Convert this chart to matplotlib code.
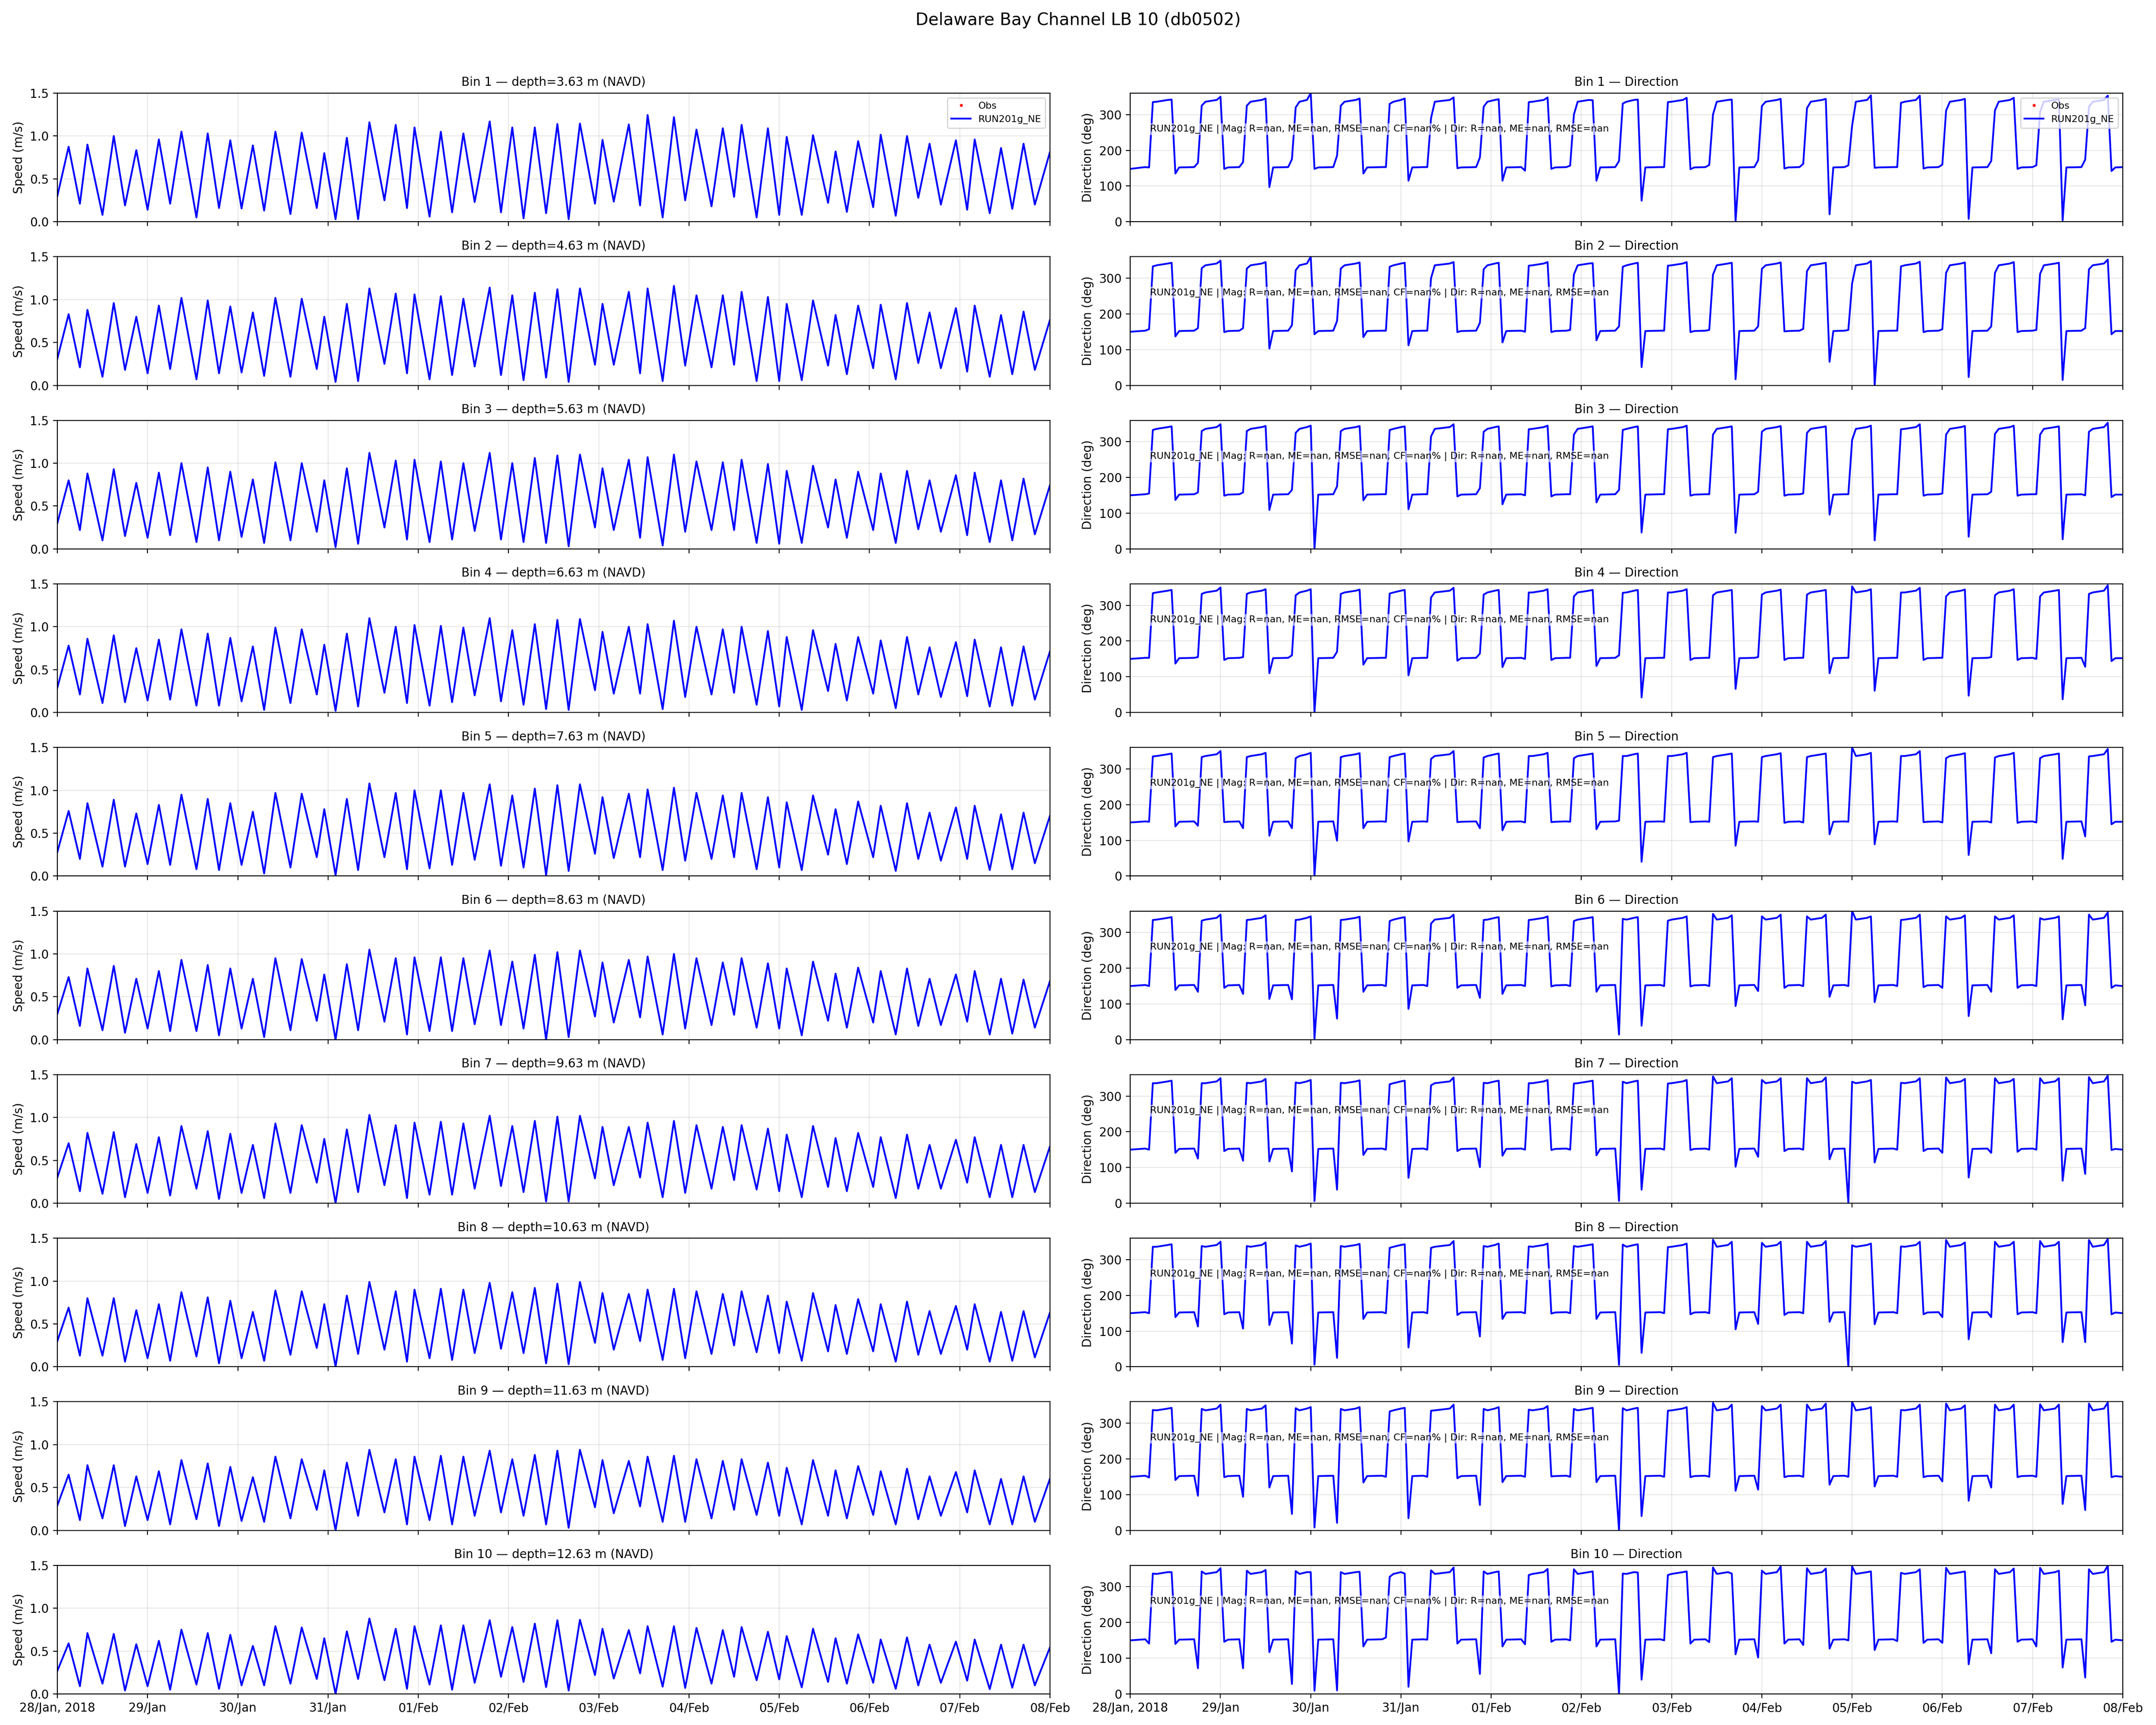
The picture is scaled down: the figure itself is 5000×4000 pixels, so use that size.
import numpy as np
import matplotlib
matplotlib.use("Agg")
import matplotlib.pyplot as plt
import matplotlib.dates as mdates
from matplotlib.ticker import FuncFormatter
from datetime import datetime, timedelta

station = "Delaware Bay Channel LB 10 (db0502)"
model_name = "RUN201g_NE"
t0 = datetime(2018, 1, 28)
t1 = datetime(2018, 2, 8)
depths = [3.63, 4.63, 5.63, 6.63, 7.63, 8.63, 9.63, 10.63, 11.63, 12.63]

# hours after 28 Jan 00:00 of the speed maxima / slack minima (same for every bin)
peak_hr = [3, 8, 15, 21, 27, 33, 40, 46, 52, 58, 65, 71, 77, 83, 90, 95, 102, 108, 115, 121,
           127, 133, 139, 145, 152, 157, 164, 170, 177, 182, 189, 194, 201, 207, 213, 219, 226, 232, 239, 244,
           251, 257]
trough_hr = [6, 12, 18, 24, 30, 37, 43, 49, 55, 62, 69, 74, 80, 87, 93, 99, 105, 111, 118, 124,
             130, 136, 143, 148, 155, 161, 167, 174, 180, 186, 192, 198, 205, 210, 217, 223, 229, 235, 242, 248,
             254, 260]

speed_start = [0.30, 0.31, 0.30, 0.29, 0.28, 0.30, 0.30, 0.30, 0.29, 0.27]
speed_end = [0.81, 0.76, 0.74, 0.71, 0.70, 0.68, 0.66, 0.63, 0.60, 0.54]

speed_peaks = [
    [0.875, 0.90, 1.00, 0.835, 0.96, 1.05, 1.03, 0.95, 0.89, 1.05, 1.04, 0.80, 0.98, 1.16, 1.13, 1.10, 1.05, 1.03, 1.17, 1.10,
     1.10, 1.14, 1.145, 0.955, 1.135, 1.245, 1.22, 1.075, 1.09, 1.13, 1.09, 0.99, 1.01, 0.82, 0.94, 1.015, 1.00, 0.91, 0.95, 0.96,
     0.86, 0.91],
    [0.83, 0.88, 0.96, 0.80, 0.93, 1.02, 0.99, 0.92, 0.85, 1.02, 1.01, 0.80, 0.95, 1.13, 1.07, 1.06, 1.04, 1.01, 1.14, 1.05,
     1.08, 1.12, 1.13, 0.95, 1.09, 1.13, 1.16, 1.05, 1.05, 1.09, 1.03, 0.95, 0.99, 0.82, 0.93, 0.94, 0.96, 0.85, 0.90, 0.93,
     0.82, 0.86],
    [0.80, 0.88, 0.93, 0.77, 0.89, 1.00, 0.95, 0.90, 0.81, 1.01, 1.00, 0.80, 0.94, 1.12, 1.03, 1.04, 1.02, 1.00, 1.12, 1.00,
     1.06, 1.09, 1.10, 0.94, 1.04, 1.07, 1.10, 1.02, 1.01, 1.04, 0.99, 0.91, 0.97, 0.81, 0.90, 0.88, 0.91, 0.80, 0.86, 0.89,
     0.80, 0.82],
    [0.78, 0.86, 0.90, 0.75, 0.85, 0.97, 0.92, 0.87, 0.77, 0.99, 0.97, 0.79, 0.92, 1.10, 1.00, 1.02, 1.01, 0.99, 1.10, 0.96,
     1.03, 1.08, 1.09, 0.94, 1.00, 1.03, 1.07, 1.00, 0.97, 1.00, 0.95, 0.88, 0.96, 0.80, 0.88, 0.84, 0.88, 0.76, 0.82, 0.85,
     0.76, 0.77],
    [0.76, 0.85, 0.89, 0.73, 0.83, 0.95, 0.90, 0.85, 0.75, 0.97, 0.96, 0.78, 0.90, 1.08, 0.97, 1.00, 1.00, 0.97, 1.07, 0.94,
     1.02, 1.06, 1.07, 0.92, 0.96, 1.01, 1.03, 0.97, 0.94, 0.97, 0.92, 0.86, 0.94, 0.78, 0.87, 0.82, 0.85, 0.74, 0.80, 0.82,
     0.72, 0.74],
    [0.73, 0.83, 0.86, 0.71, 0.80, 0.93, 0.87, 0.83, 0.71, 0.95, 0.94, 0.76, 0.88, 1.05, 0.95, 0.96, 0.96, 0.95, 1.04, 0.91,
     0.99, 1.02, 1.04, 0.90, 0.93, 0.97, 1.00, 0.95, 0.90, 0.95, 0.89, 0.83, 0.91, 0.77, 0.84, 0.80, 0.83, 0.71, 0.76, 0.80,
     0.71, 0.70],
    [0.70, 0.82, 0.83, 0.69, 0.77, 0.90, 0.84, 0.81, 0.68, 0.93, 0.91, 0.75, 0.86, 1.03, 0.91, 0.94, 0.95, 0.93, 1.02, 0.90,
     0.96, 1.01, 1.02, 0.89, 0.89, 0.94, 0.96, 0.91, 0.89, 0.91, 0.87, 0.80, 0.90, 0.76, 0.82, 0.77, 0.80, 0.68, 0.74, 0.77,
     0.68, 0.68],
    [0.69, 0.80, 0.80, 0.66, 0.73, 0.87, 0.81, 0.77, 0.64, 0.89, 0.88, 0.73, 0.83, 0.99, 0.88, 0.90, 0.91, 0.90, 0.98, 0.87,
     0.92, 0.97, 0.99, 0.86, 0.85, 0.90, 0.91, 0.88, 0.85, 0.88, 0.83, 0.76, 0.86, 0.72, 0.79, 0.73, 0.76, 0.65, 0.71, 0.73,
     0.64, 0.65],
    [0.65, 0.76, 0.76, 0.63, 0.69, 0.82, 0.78, 0.74, 0.62, 0.86, 0.83, 0.70, 0.79, 0.94, 0.83, 0.86, 0.87, 0.86, 0.93, 0.83,
     0.88, 0.93, 0.94, 0.82, 0.81, 0.86, 0.87, 0.83, 0.81, 0.83, 0.79, 0.73, 0.82, 0.70, 0.75, 0.69, 0.72, 0.63, 0.68, 0.70,
     0.60, 0.63],
    [0.59, 0.71, 0.70, 0.58, 0.62, 0.75, 0.71, 0.69, 0.56, 0.79, 0.775, 0.65, 0.73, 0.88, 0.76, 0.79, 0.80, 0.80, 0.86, 0.78,
     0.82, 0.86, 0.865, 0.76, 0.745, 0.79, 0.79, 0.77, 0.745, 0.78, 0.725, 0.675, 0.76, 0.65, 0.695, 0.635, 0.66, 0.575, 0.61, 0.635,
     0.575, 0.575],
]

speed_troughs = [
    [0.21, 0.08, 0.19, 0.14, 0.21, 0.05, 0.16, 0.155, 0.13, 0.09, 0.16, 0.03, 0.03, 0.25, 0.16, 0.06, 0.11, 0.23, 0.11, 0.04,
     0.10, 0.03, 0.21, 0.235, 0.19, 0.05, 0.25, 0.18, 0.29, 0.05, 0.08, 0.08, 0.22, 0.115, 0.17, 0.07, 0.28, 0.20, 0.14, 0.10,
     0.15, 0.20],
    [0.21, 0.10, 0.18, 0.14, 0.19, 0.07, 0.14, 0.15, 0.11, 0.10, 0.19, 0.04, 0.05, 0.25, 0.14, 0.07, 0.12, 0.22, 0.12, 0.06,
     0.09, 0.04, 0.24, 0.24, 0.14, 0.05, 0.23, 0.21, 0.24, 0.05, 0.05, 0.06, 0.23, 0.13, 0.20, 0.07, 0.26, 0.20, 0.16, 0.10,
     0.13, 0.18],
    [0.22, 0.10, 0.15, 0.13, 0.16, 0.08, 0.10, 0.14, 0.07, 0.10, 0.20, 0.02, 0.06, 0.25, 0.11, 0.08, 0.11, 0.21, 0.11, 0.08,
     0.07, 0.03, 0.25, 0.22, 0.13, 0.04, 0.20, 0.22, 0.22, 0.07, 0.06, 0.07, 0.25, 0.13, 0.22, 0.07, 0.23, 0.20, 0.16, 0.08,
     0.10, 0.17],
    [0.21, 0.11, 0.12, 0.14, 0.15, 0.08, 0.08, 0.13, 0.03, 0.11, 0.21, 0.02, 0.07, 0.23, 0.11, 0.08, 0.12, 0.20, 0.13, 0.09,
     0.04, 0.03, 0.26, 0.22, 0.22, 0.04, 0.18, 0.21, 0.23, 0.09, 0.07, 0.03, 0.25, 0.14, 0.22, 0.05, 0.21, 0.18, 0.19, 0.07,
     0.08, 0.15],
    [0.20, 0.11, 0.11, 0.14, 0.13, 0.08, 0.07, 0.13, 0.03, 0.10, 0.22, 0.01, 0.07, 0.22, 0.08, 0.09, 0.13, 0.19, 0.12, 0.10,
     0.01, 0.06, 0.26, 0.21, 0.22, 0.07, 0.18, 0.20, 0.22, 0.08, 0.10, 0.07, 0.25, 0.14, 0.22, 0.06, 0.20, 0.18, 0.20, 0.07,
     0.08, 0.15],
    [0.16, 0.11, 0.08, 0.13, 0.10, 0.10, 0.05, 0.13, 0.03, 0.11, 0.22, 0.00, 0.11, 0.21, 0.06, 0.10, 0.10, 0.18, 0.17, 0.13,
     0.00, 0.03, 0.27, 0.20, 0.26, 0.06, 0.13, 0.17, 0.29, 0.14, 0.13, 0.05, 0.22, 0.14, 0.20, 0.06, 0.16, 0.17, 0.21, 0.06,
     0.07, 0.14],
    [0.14, 0.11, 0.07, 0.12, 0.09, 0.17, 0.05, 0.12, 0.06, 0.12, 0.24, 0.00, 0.13, 0.21, 0.06, 0.10, 0.10, 0.17, 0.20, 0.13,
     0.02, 0.02, 0.29, 0.21, 0.30, 0.07, 0.12, 0.17, 0.27, 0.16, 0.14, 0.07, 0.19, 0.14, 0.19, 0.06, 0.17, 0.17, 0.24, 0.07,
     0.07, 0.13],
    [0.13, 0.13, 0.06, 0.10, 0.07, 0.12, 0.04, 0.10, 0.07, 0.14, 0.22, 0.00, 0.15, 0.20, 0.06, 0.10, 0.08, 0.16, 0.21, 0.16,
     0.04, 0.03, 0.28, 0.20, 0.30, 0.08, 0.10, 0.15, 0.25, 0.17, 0.16, 0.07, 0.18, 0.15, 0.18, 0.06, 0.14, 0.15, 0.20, 0.06,
     0.07, 0.11],
    [0.12, 0.14, 0.05, 0.12, 0.07, 0.13, 0.05, 0.11, 0.10, 0.14, 0.24, 0.00, 0.17, 0.21, 0.07, 0.12, 0.07, 0.17, 0.21, 0.17,
     0.07, 0.03, 0.27, 0.20, 0.28, 0.10, 0.10, 0.14, 0.24, 0.18, 0.17, 0.07, 0.17, 0.14, 0.18, 0.07, 0.13, 0.17, 0.21, 0.07,
     0.07, 0.10],
    [0.09, 0.12, 0.04, 0.09, 0.05, 0.11, 0.06, 0.10, 0.10, 0.12, 0.175, 0.00, 0.175, 0.16, 0.06, 0.11, 0.05, 0.13, 0.20, 0.14,
     0.08, 0.04, 0.22, 0.18, 0.24, 0.085, 0.07, 0.12, 0.20, 0.16, 0.17, 0.077, 0.14, 0.12, 0.13, 0.06, 0.10, 0.13, 0.155, 0.056,
     0.073, 0.10],
]

# direction: hour the current turns to flood (rise) and back to ebb (drop)
rise_hr = [6, 19, 31, 44, 56, 69, 80, 94, 106, 118, 131, 143, 155, 168, 180, 192, 205, 217, 230, 242, 255]
drop_hr = [12, 25, 37, 49, 62, 74, 87, 99, 112, 124, 136, 149, 161, 174, 186, 198, 211, 223, 236, 248, 261]
ebb_level = 152
flood_mid = [336, 341]

dir_start = [148, 150, 150, 150, 150, 150, 150, 150, 150, 150]
dir_end = [153, 152, 152, 152, 152, 150, 150, 150, 150, 150]

# first ebb value after each flood (spike at the turn)
dir_drop = [
    [135, 148, 97, 148, 135, 115, 150, 115, 148, 115, 59, 147, 1, 149, 21, 151, 149, 8, 148, 4, 142],
    [137, 149, 103, 143, 135, 112, 149, 120, 149, 126, 51, 149, 17, 151, 66, 0, 149, 23, 149, 15, 143],
    [137, 149, 109, 0, 136, 111, 147, 125, 147, 130, 46, 149, 45, 149, 96, 24, 149, 34, 149, 27, 145],
    [137, 147, 110, 0, 134, 104, 145, 127, 147, 130, 42, 147, 66, 147, 110, 61, 147, 47, 147, 37, 144],
    [139, 151, 113, 2, 134, 97, 151, 128, 151, 131, 40, 151, 85, 149, 117, 89, 151, 59, 149, 48, 145],
    [139, 145, 114, 2, 134, 86, 145, 128, 149, 134, 39, 149, 94, 145, 120, 105, 147, 66, 145, 57, 145],
    [141, 146, 117, 6, 135, 71, 146, 133, 149, 134, 38, 149, 102, 146, 123, 114, 146, 72, 144, 63, 149],
    [139, 147, 117, 6, 134, 54, 145, 134, 149, 134, 39, 147, 105, 145, 126, 119, 147, 77, 147, 69, 147],
    [141, 149, 120, 8, 134, 34, 146, 135, 151, 135, 40, 149, 111, 149, 128, 123, 149, 83, 149, 74, 149],
    [140, 146, 117, 9, 133, 20, 141, 133, 146, 133, 40, 141, 111, 141, 127, 123, 143, 83, 146, 74, 146],
]

# last ebb value before each flood
dir_dip = [
    [152, 165, 167, 175, 185, 153, 153, 180, 143, 157, 170, 153, 159, 172, 162, 158, 153, 160, 170, 158, 174],
    [157, 160, 160, 168, 180, 153, 153, 175, 150, 155, 165, 153, 155, 165, 158, 155, 153, 157, 165, 155, 160],
    [155, 158, 158, 165, 175, 153, 153, 170, 150, 153, 165, 153, 153, 160, 155, 153, 153, 155, 160, 153, 150],
    [153, 155, 155, 160, 170, 153, 153, 165, 150, 153, 160, 153, 153, 155, 153, 153, 153, 153, 155, 150, 128],
    [152, 141, 134, 134, 99, 152, 152, 134, 150, 152, 155, 152, 152, 152, 150, 152, 152, 150, 150, 150, 111],
    [150, 134, 128, 113, 59, 150, 150, 117, 150, 150, 14, 150, 150, 136, 150, 150, 150, 145, 134, 150, 96],
    [150, 125, 119, 89, 38, 150, 150, 101, 150, 150, 6, 150, 150, 130, 150, 0, 150, 141, 141, 150, 82],
    [150, 113, 107, 65, 25, 150, 150, 85, 150, 150, 5, 150, 150, 120, 150, 0, 150, 139, 139, 150, 69],
    [148, 97, 94, 46, 21, 150, 150, 71, 150, 150, 0, 150, 150, 114, 150, 150, 150, 137, 120, 150, 57],
    [141, 72, 72, 28, 10, 158, 152, 56, 139, 150, 0, 150, 145, 102, 137, 150, 148, 143, 114, 133, 46],
]

# first and last flood values
dir_flood_start = [
    [335, 325, 325, 320, 325, 330, 290, 322, 335, 300, 331, 335, 300, 324, 318, 269, 333, 311, 312, 308, 322],
    [333, 328, 327, 322, 327, 332, 300, 325, 335, 310, 332, 335, 310, 326, 320, 285, 333, 315, 315, 312, 325],
    [333, 330, 330, 325, 330, 333, 315, 328, 335, 320, 333, 335, 320, 328, 325, 305, 335, 320, 322, 320, 328],
    [334, 332, 332, 328, 332, 333, 322, 330, 336, 325, 335, 336, 328, 330, 330, 353, 336, 325, 328, 325, 332],
    [335, 333, 333, 330, 333, 333, 328, 332, 336, 330, 336, 336, 333, 333, 333, 360, 336, 330, 332, 330, 335],
    [335, 333, 335, 335, 335, 332, 325, 335, 335, 332, 338, 333, 352, 345, 345, 360, 335, 345, 345, 340, 350],
    [336, 336, 337, 338, 337, 333, 330, 337, 336, 335, 340, 335, 355, 345, 350, 340, 337, 352, 350, 350, 353],
    [336, 338, 338, 340, 338, 333, 333, 338, 337, 338, 342, 335, 356, 347, 350, 340, 337, 355, 350, 352, 355],
    [337, 340, 340, 342, 340, 333, 335, 340, 338, 340, 342, 335, 357, 348, 352, 360, 337, 355, 352, 353, 355],
    [337, 343, 345, 344, 341, 328, 346, 343, 333, 349, 337, 333, 354, 345, 352, 357, 339, 353, 349, 353, 349],
]
dir_flood_end = [
    [342, 350, 345, 360, 345, 345, 348, 343, 348, 340, 342, 347, 342, 344, 344, 354, 353, 344, 347, 343, 353],
    [343, 349, 345, 360, 344, 343, 345, 343, 345, 342, 343, 345, 343, 344, 343, 348, 346, 344, 345, 343, 352],
    [343, 349, 344, 345, 344, 343, 349, 343, 345, 343, 343, 345, 343, 344, 343, 345, 349, 344, 345, 343, 353],
    [343, 350, 345, 345, 344, 343, 349, 343, 345, 343, 343, 345, 343, 344, 343, 345, 349, 344, 345, 343, 356],
    [343, 350, 345, 345, 344, 343, 350, 343, 345, 343, 343, 345, 343, 344, 343, 345, 350, 344, 345, 343, 356],
    [343, 350, 348, 345, 344, 343, 350, 343, 345, 343, 343, 345, 348, 350, 350, 345, 350, 348, 348, 345, 356],
    [343, 350, 348, 345, 344, 343, 352, 343, 345, 343, 343, 345, 350, 350, 352, 345, 350, 348, 348, 350, 357],
    [343, 350, 348, 345, 344, 343, 352, 345, 345, 343, 343, 345, 350, 350, 352, 345, 350, 348, 350, 350, 358],
    [343, 352, 350, 345, 345, 343, 352, 345, 348, 343, 343, 345, 352, 352, 355, 345, 352, 350, 352, 352, 358],
    [341, 352, 347, 341, 342, 337, 354, 343, 350, 343, 340, 343, 337, 357, 351, 343, 349, 343, 351, 345, 359],
]

stats_text = (f"{model_name} | Mag: R=nan, ME=nan, RMSE=nan, CF=nan% | "
              "Dir: R=nan, ME=nan, RMSE=nan")


def to_time(hours):
    return [t0 + timedelta(hours=float(h)) for h in hours]


def speed_series(b):
    hrs = [0]
    vals = [speed_start[b]]
    for i in range(len(peak_hr)):
        hrs += [peak_hr[i], trough_hr[i]]
        vals += [speed_peaks[b][i], speed_troughs[b][i]]
    hrs.append(264)
    vals.append(speed_end[b])
    return to_time(hrs), vals


def dir_series(b):
    hrs = [0]
    vals = [dir_start[b]]
    for c in range(len(rise_hr)):
        r, d = rise_hr[c], drop_hr[c]
        hrs += [r - 2, r - 1, r, r + 1, d - 2, d - 1, d, d + 1]
        vals += [ebb_level + 1, dir_dip[b][c], dir_flood_start[b][c], flood_mid[0],
                 flood_mid[1], dir_flood_end[b][c], dir_drop[b][c], ebb_level]
    hrs.append(264)
    vals.append(dir_end[b])
    return to_time(hrs), vals


def date_fmt(x, pos):
    d = mdates.num2date(x)
    if pos == 0:
        return d.strftime("%d/%b, %Y")
    return d.strftime("%d/%b")


fig, axes = plt.subplots(10, 2, figsize=(25, 20), dpi=200, sharex=True)
fig.subplots_adjust(left=0.0266, right=0.9846, top=0.946, bottom=0.018,
                    wspace=0.081, hspace=0.272)
fig.suptitle(station, fontsize=14, y=0.993)

for b in range(10):
    ax_s = axes[b, 0]
    ax_d = axes[b, 1]

    ts, vs = speed_series(b)
    ax_s.plot([], [], ".", color="red", markersize=3, label="Obs")
    ax_s.plot(ts, vs, color="blue", lw=1.5, label=model_name)
    ax_s.set_ylim(0, 1.5)
    ax_s.set_yticks([0, 0.5, 1.0, 1.5])
    ax_s.set_ylabel("Speed (m/s)")
    ax_s.set_title(f"Bin {b + 1} \u2014 depth={depths[b]:.2f} m (NAVD)", fontsize=10)
    ax_s.grid(True, alpha=0.3)

    td, vd = dir_series(b)
    ax_d.plot([], [], ".", color="red", markersize=3, label="Obs")
    ax_d.plot(td, vd, color="blue", lw=1.5, label=model_name)
    ax_d.set_ylim(0, 360)
    ax_d.set_yticks([0, 100, 200, 300])
    ax_d.set_ylabel("Direction (deg)")
    ax_d.set_title(f"Bin {b + 1} \u2014 Direction", fontsize=10)
    ax_d.grid(True, alpha=0.3)
    ax_d.text(0.02, 0.72, stats_text, transform=ax_d.transAxes, fontsize=8,
              va="center", ha="left", zorder=5,
              bbox=dict(facecolor="white", alpha=0.6, edgecolor="none", pad=1))

    if b == 0:
        ax_s.legend(loc="upper right", fontsize=8)
        ax_d.legend(loc="upper right", fontsize=8)

for ax in axes.flat:
    ax.set_xlim(t0, t1)
    ax.xaxis.set_major_locator(mdates.DayLocator())
    ax.xaxis.set_major_formatter(FuncFormatter(date_fmt))

plt.savefig("out.png")
print("saved out.png")
